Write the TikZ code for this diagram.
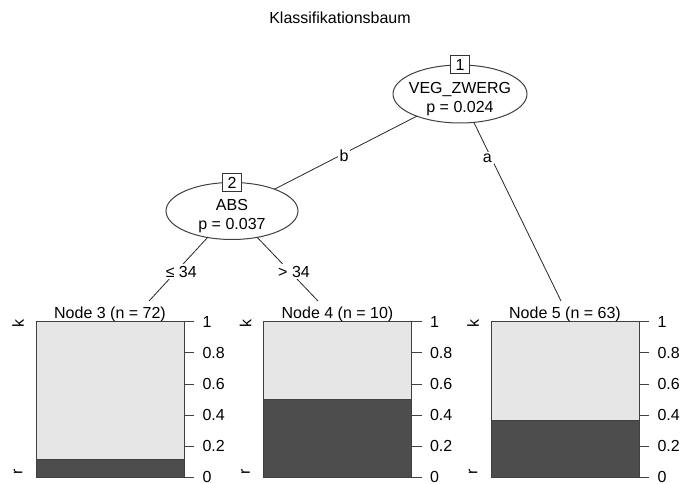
\documentclass[tikz,border=0pt]{standalone}
\usepackage{fontspec}
\setmainfont{Liberation Sans}
\usetikzlibrary{shapes.geometric}

\definecolor{barlight}{HTML}{E6E6E6}
\definecolor{bardark}{HTML}{4D4D4D}

\tikzset{
  splitnode/.style={ellipse, draw=black!75, fill=white, inner sep=0pt, outer sep=0pt, line width=0.75pt},
  idbox/.style={draw=black!80, fill=white, inner sep=0pt, minimum width=14.5pt, minimum height=13.5pt, line width=0.75pt},
  edge/.style={draw=black!85, line width=0.6pt},
  edgelbl/.style={fill=white, inner sep=1.5pt},
  boxline/.style={draw=black!75, line width=0.75pt},
  ticklbl/.style={anchor=west, inner sep=0pt, xshift=6pt},
  classlbl/.style={rotate=90, inner sep=0pt}
}

\begin{document}
\begin{tikzpicture}[x=0.75pt,y=-0.75pt,font=\fontsize{12}{14.25}\selectfont]
  \useasboundingbox (0,0) rectangle (681,484);

  \node (title) at (340,18) {Klassifikationsbaum};

  % terminal panels: id / n / left edge / share of r / edge end
  \foreach \nid/\n/\lx/\r/\ex in {3/72/36/0.111/149, 4/10/263.5/0.5/318, 5/63/491/0.365/561}{
    \fill[barlight] (\lx,322) rectangle ++(148,155);
    \fill[bardark] (\lx,477) rectangle ++(148,-155*\r);
    \draw[boxline] (\lx,477-155*\r) -- ++(148,0);
    \draw[boxline] (\lx,322) rectangle ++(148,155);
    \foreach \t in {0,0.2,0.4,0.6,0.8,1}
      \draw[boxline] (\lx+148,477-155*\t) -- ++(10,0) node[ticklbl] {\t};
    \node[classlbl] at (\lx-18,324) {k};
    \node[classlbl] at (\lx-18,472) {r};
    \node[anchor=base] (t\nid) at (\lx+74,319) {Node \nid{} (n = \n)};
    \coordinate (e\nid) at (\ex,301);
  }

  % inner nodes
  \node[splitnode, minimum width=100.5pt, minimum height=43.5pt,
        label={[align=center,yshift=-4pt]center:VEG\_ZWERG\\p = 0.024}] (n1) at (460,94) {};
  \node[splitnode, minimum width=99pt, minimum height=42.75pt,
        label={[align=center,yshift=-4pt]center:ABS\\p = 0.037}] (n2) at (232,211) {};
  \node[idbox] (id1) at (n1.north) {1};
  \node[idbox] (id2) at (n2.north) {2};

  \draw[edge] (n1) -- (n2) node[edgelbl, pos=0.54, xshift=3pt] {b};
  \draw[edge] (n1) -- (e5) node[edgelbl, pos=0.2, xshift=-3pt] {a};
  \draw[edge] (n2) -- (e3) node[edgelbl, pos=0.54, xshift=4pt] {≤ 34};
  \draw[edge] (n2) -- (e4) node[edgelbl, pos=0.54, xshift=3pt] {> 34};
\end{tikzpicture}
\end{document}
